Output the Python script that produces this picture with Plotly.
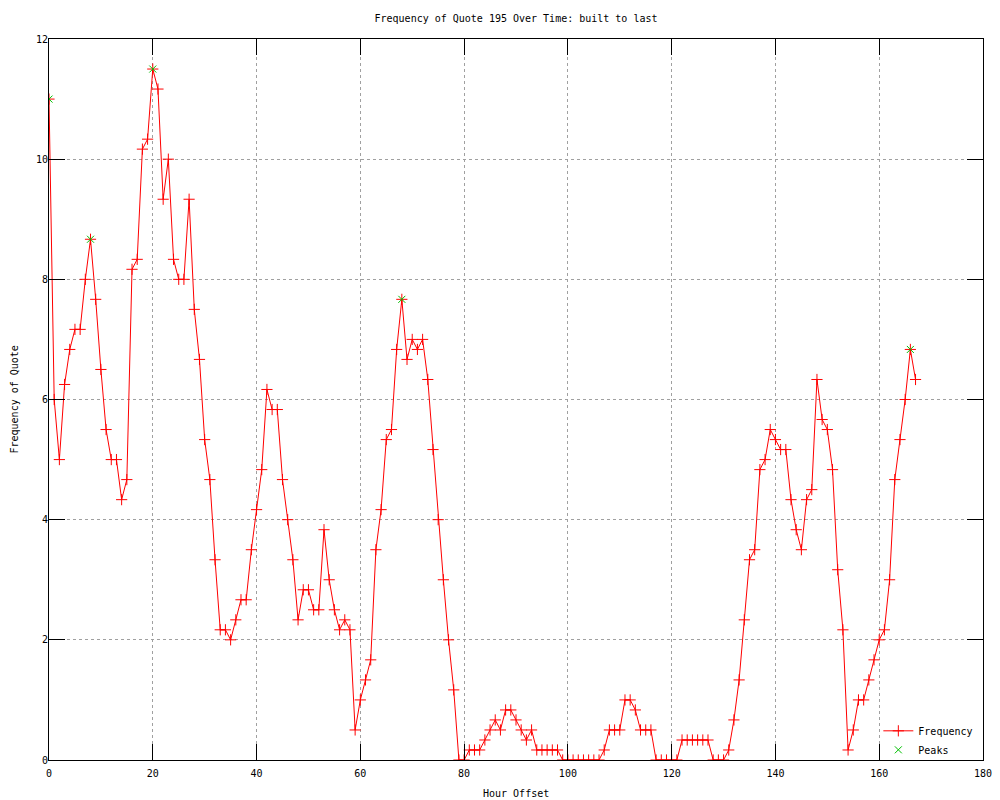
import plotly.graph_objects as go

# ---- data ----
hours = list(range(168))
frequency = [
    11.0, 6.0, 5.0, 6.25, 6.833, 7.167, 7.167, 8.0, 8.667, 7.667,      # 0-9
    6.5, 5.5, 5.0, 5.0, 4.333, 4.667, 8.167, 8.333, 10.167, 10.333,    # 10-19
    11.5, 11.167, 9.333, 10.0, 8.333, 8.0, 8.0, 9.333, 7.5, 6.667,     # 20-29
    5.333, 4.667, 3.333, 2.167, 2.167, 2.0, 2.333, 2.667, 2.667, 3.5,  # 30-39
    4.167, 4.833, 6.167, 5.833, 5.833, 4.667, 4.0, 3.333, 2.333, 2.833,  # 40-49
    2.833, 2.5, 2.5, 3.833, 3.0, 2.5, 2.167, 2.333, 2.167, 0.5,        # 50-59
    1.0, 1.333, 1.667, 3.5, 4.167, 5.333, 5.5, 6.833, 7.667, 6.667,    # 60-69
    7.0, 6.833, 7.0, 6.333, 5.167, 4.0, 3.0, 2.0, 1.167, 0.0,          # 70-79
    0.0, 0.167, 0.167, 0.167, 0.333, 0.5, 0.667, 0.5, 0.833, 0.833,    # 80-89
    0.667, 0.5, 0.333, 0.5, 0.167, 0.167, 0.167, 0.167, 0.167, 0.0,    # 90-99
    0.0, 0.0, 0.0, 0.0, 0.0, 0.0, 0.0, 0.167, 0.5, 0.5,                # 100-109
    0.5, 1.0, 1.0, 0.833, 0.5, 0.5, 0.5, 0.0, 0.0, 0.0,                # 110-119
    0.0, 0.0, 0.333, 0.333, 0.333, 0.333, 0.333, 0.333, 0.0, 0.0,      # 120-129
    0.0, 0.167, 0.667, 1.333, 2.333, 3.333, 3.5, 4.833, 5.0, 5.5,      # 130-139
    5.333, 5.167, 5.167, 4.333, 3.833, 3.5, 4.333, 4.5, 6.333, 5.667,  # 140-149
    5.5, 4.833, 3.167, 2.167, 0.167, 0.5, 1.0, 1.0, 1.333, 1.667,      # 150-159
    2.0, 2.167, 3.0, 4.667, 5.333, 6.0, 6.833, 6.333,                  # 160-167
]
peak_hours = [0, 8, 20, 68, 166]
peak_values = [11.0, 8.667, 11.5, 7.667, 6.833]

x_ticks = [0, 20, 40, 60, 80, 100, 120, 140, 160, 180]
y_ticks = [0, 2, 4, 6, 8, 10, 12]

title_text = "Frequency of Quote 195 Over Time: built to last"
x_title = "Hour Offset"
y_title = "Frequency of Quote"

FONT = "DejaVu Sans Mono"

# page body has an 8px margin; figure is sized to fit the 1000x800 window
W, H = 992, 792
L, T = 41, 31          # plot-area left / top in figure pixels
PW, PH = 934, 721      # plot-area width / height

fig = go.Figure()
fig.add_trace(go.Scatter(
    x=hours, y=frequency, mode="lines+markers", name="Frequency",
    line=dict(color="#ff0000", width=1),
    marker=dict(symbol="cross-thin", size=8, line=dict(color="#ff0000", width=1), color="#ff0000"),
))
fig.add_trace(go.Scatter(
    x=peak_hours, y=peak_values, mode="markers", name="Peaks",
    marker=dict(symbol="x-thin", size=7, line=dict(color="#00c000", width=1), color="#00c000"),
))

axis_common = dict(
    showline=True, linecolor="black", linewidth=1, mirror="ticks",
    ticks="inside", ticklen=16, tickwidth=1, tickcolor="black",
    showgrid=True, gridcolor="#a0a0a0", gridwidth=1, griddash="dot",
    zeroline=False, automargin=False,
    tickfont=dict(family=FONT, size=10, color="black"),
)

fig.update_xaxes(range=[0, 180], tickvals=x_ticks, ticklabelstandoff=4, **axis_common)
fig.update_yaxes(range=[0, 12], tickvals=y_ticks, ticklabelstandoff=-2, **axis_common)

fig.update_layout(
    width=W, height=H,
    margin=dict(l=L, r=W - L - PW, t=T, b=H - T - PH, autoexpand=False),
    paper_bgcolor="white", plot_bgcolor="white",
    font=dict(family=FONT, size=10, color="black"),
    title=dict(text=title_text, x=0.5, xref="paper", y=1 - 10 / H, yref="container",
               yanchor="middle", xanchor="center", font=dict(family=FONT, size=10, color="black")),
    showlegend=True,
    legend=dict(x=0.995, y=-0.006, xanchor="right", yanchor="bottom", bgcolor="rgba(0,0,0,0)",
                font=dict(family=FONT, size=10, color="black"), tracegroupgap=0, itemwidth=30),
    annotations=[
        dict(text=x_title, xref="paper", yref="paper", x=0.5, y=-33 / PH,
             xanchor="center", yanchor="middle", showarrow=False,
             font=dict(family=FONT, size=10, color="black")),
        dict(text=y_title, xref="paper", yref="paper", x=-35 / PW, y=0.5,
             xanchor="center", yanchor="middle", textangle=-90, showarrow=False,
             font=dict(family=FONT, size=10, color="black")),
    ],
)

fig.write_html("out.html")
